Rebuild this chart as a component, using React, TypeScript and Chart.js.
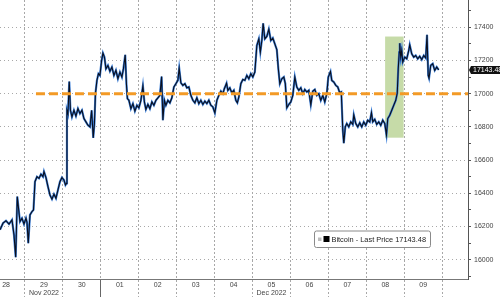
import { useEffect, useRef } from 'react';
import { Chart, registerables } from 'chart.js';

Chart.register(...registerables);

// Hours since 2022-11-28 00:00
const HOURS = [
  8.19, 10.09, 11.98, 13.88, 15.78, 17.04, 18.12, 19.13, 20.02, 20.84,
  22.10, 23.37, 24.63, 25.27, 26.09, 27.16, 28.43, 29.38, 30.32, 31.59,
  32.85, 34.12, 35.38, 36.02, 37.28, 38.55, 39.81, 41.08, 42.34, 43.60,
  44.87, 46.13, 47.40, 48.66, 49.61, 50.24, 50.56, 51.19, 52.02, 52.77,
  53.72, 54.99, 56.25, 57.52, 58.78, 60.05, 61.31, 62.58, 63.84, 65.11,
  66.18, 67.19, 67.95, 68.58, 69.53, 70.48, 71.43, 72.51, 73.33, 74.28,
  75.23, 76.49, 77.76, 79.02, 80.29, 81.55, 82.81, 84.08, 85.34, 86.29,
  87.43, 88.19, 88.82, 89.77, 91.03, 92.30, 93.56, 94.83, 96.09, 97.36,
  98.62, 99.57, 100.52, 101.79, 103.05, 104.32, 105.58, 106.85, 108.11, 109.38,
  110.45, 111.27, 112.22, 113.17, 114.43, 115.70, 116.96, 118.23, 119.49, 120.76,
  121.58, 122.65, 123.92, 125.18, 126.45, 127.71, 128.98, 130.24, 131.51, 132.77,
  134.04, 135.30, 136.57, 137.83, 139.10, 140.36, 141.63, 142.89, 144.16, 145.42,
  146.69, 147.95, 149.22, 150.17, 151.56, 152.38, 153.64, 154.91, 156.17, 157.44,
  158.39, 159.34, 160.60, 161.87, 163.13, 164.40, 165.66, 166.93, 168.19, 169.46,
  170.72, 171.99, 172.94, 173.88, 174.71, 175.78, 177.05, 178.31, 179.58, 180.84,
  182.11, 183.37, 184.32, 185.27, 186.54, 187.80, 188.75, 189.70, 190.96, 192.23,
  193.49, 194.76, 196.02, 197.29, 198.55, 199.82, 201.08, 202.35, 203.61, 204.88,
  206.14, 207.41, 208.67, 209.94, 211.20, 212.47, 213.73, 215.00, 215.94, 217.33,
  218.15, 219.42, 220.68, 221.95, 223.21, 224.16, 225.12, 225.75, 226.69, 227.64,
  228.91, 230.17, 231.44, 232.07, 233.33, 234.60, 235.86, 237.13, 238.39, 239.66,
  240.92, 242.18, 243.26, 244.08, 245.35, 246.61, 247.88, 249.14, 250.41, 251.67,
  252.75, 253.57, 254.83, 256.10, 257.36, 258.63, 259.58, 260.21, 260.84, 261.16,
  261.79, 262.42, 263.05, 264.32, 265.58, 266.85, 267.48, 268.74, 270.01, 271.27,
  272.54, 273.80, 275.07, 276.33, 277.60, 278.42, 279.18, 279.69, 280.76, 282.03,
  283.29, 284.56, 285.82,
];

const PRICES = [
  16180, 16220, 16235, 16215, 16240, 16150, 16015, 16380, 16300, 16230,
  16250, 16215, 16250, 16225, 16100, 16270, 16290, 16300, 16470, 16500,
  16490, 16515, 16500, 16531, 16495, 16440, 16390, 16365, 16395, 16370,
  16420, 16470, 16495, 16480, 16450, 16460, 16900, 16880, 17073, 16900,
  16860, 16900, 16865, 16910, 16880, 16900, 16850, 16830, 16810, 16800,
  16900, 16734, 16820, 17000, 17080, 17120, 17110, 17200, 17244, 17220,
  17150, 17170, 17135, 17160, 17110, 17140, 17090, 17130, 17100, 17150,
  17234, 17060, 16970, 16960, 16910, 16940, 16895, 16930, 16915, 16960,
  17047, 16950, 16905, 16935, 16910, 16950, 16930, 16960, 16975, 16990,
  17103, 16840, 16960, 16930, 16960, 16945, 16975, 17040, 17060, 17080,
  17153, 17065, 17050, 17060, 17035, 17040, 16990, 16960, 16945, 16975,
  16940, 16960, 16935, 16955, 16940, 16960, 16930, 16920, 16884, 16960,
  16990, 17015, 17000, 17030, 17063, 17020, 17035, 17005, 17020, 16960,
  16945, 16980, 17060, 17085, 17080, 17110, 17090, 17120, 17100, 17130,
  17290, 17330, 17250, 17320, 17424, 17330, 17345, 17388, 17320, 17335,
  17300, 17265, 17150, 17060, 17090, 17100, 17060, 16915, 16935, 16950,
  16990, 17100, 17040, 17020, 17035, 17000, 17025, 17010, 17020, 16933,
  17015, 17025, 16990, 17000, 16960, 16990, 16950, 17000, 17100, 17133,
  17080, 17070, 17050, 17040, 17005, 17010, 16780, 16702, 16800, 16820,
  16800, 16830, 16815, 16872, 16820, 16800, 16825, 16800, 16830, 16810,
  16840, 16830, 16885, 16830, 16845, 16815, 16830, 16810, 16840, 16820,
  16752, 16850, 16870, 16900, 16930, 16960, 17003, 17150, 17250, 17304,
  17220, 17260, 17190, 17220, 17210, 17260, 17294, 17240, 17220, 17230,
  17210, 17225, 17205, 17230, 17215, 17354, 17110, 17093, 17170, 17180,
  17140, 17160, 17143.48,
];

const DAY_LABELS = ['28', '29', '30', '01', '02', '03', '04', '05', '06', '07', '08', '09'];
const MONTH_LABELS: Record<string, string> = { '29': 'Nov 2022', '05': 'Dec 2022' };
const MONTH_START_HOUR = 72; // Dec 1 00:00
const X_RANGE = [8.19, 304.35];
const Y_RANGE = [15884, 17564];
const REF_LEVEL = 17000;
const REF_HOURS = [30.95, 304.35];
const HIGHLIGHT_HOURS = [251.9, 263.6];
const HIGHLIGHT_PRICES = [16735, 17344];
const LAST_PRICE = 17143.48;
const SERIES_NAME = 'Bitcoin - Last Price';

const FONT = '"Liberation Sans", Arial, sans-serif';
const GRID = '#a8a8a8';
const CLEAR = 'rgba(0,0,0,0)';

const overlayPlugin = {
  id: 'overlay',
  beforeDatasetsDraw(chart: any) {
    const { ctx, scales } = chart;
    const x = scales.x, y = scales.y;
    const x0 = x.getPixelForValue(HIGHLIGHT_HOURS[0]);
    const x1 = x.getPixelForValue(HIGHLIGHT_HOURS[1]);
    const y0 = y.getPixelForValue(HIGHLIGHT_PRICES[1]);
    const y1 = y.getPixelForValue(HIGHLIGHT_PRICES[0]);
    ctx.save();
    ctx.fillStyle = '#c6dba8';
    ctx.fillRect(x0, y0, x1 - x0, y1 - y0);
    ctx.restore();
  },
  afterDraw(chart: any) {
    const { ctx, chartArea, scales } = chart;
    const y = scales.y;
    // last price callout on the right axis
    const cy = Math.round(y.getPixelForValue(LAST_PRICE));
    ctx.save();
    ctx.fillStyle = '#111';
    ctx.beginPath();
    ctx.moveTo(chartArea.right + 1, cy);
    ctx.lineTo(chartArea.right + 3, cy - 4);
    ctx.lineTo(chart.width, cy - 4);
    ctx.lineTo(chart.width, cy + 4);
    ctx.lineTo(chartArea.right + 3, cy + 4);
    ctx.closePath();
    ctx.fill();
    ctx.fillStyle = '#fff';
    ctx.font = `7px ${FONT}`;
    ctx.textBaseline = 'middle';
    ctx.textAlign = 'left';
    ctx.fillText(LAST_PRICE.toFixed(2), chartArea.right + 5, cy + 0.5);

    // legend box
    const lx = chartArea.right - 153.5;
    const ly = chartArea.bottom - 48;
    const lw = 116, lh = 16.5;
    ctx.beginPath();
    const r = 2;
    ctx.moveTo(lx + r, ly);
    ctx.lineTo(lx + lw - r, ly);
    ctx.quadraticCurveTo(lx + lw, ly, lx + lw, ly + r);
    ctx.lineTo(lx + lw, ly + lh - r);
    ctx.quadraticCurveTo(lx + lw, ly + lh, lx + lw - r, ly + lh);
    ctx.lineTo(lx + r, ly + lh);
    ctx.quadraticCurveTo(lx, ly + lh, lx, ly + lh - r);
    ctx.lineTo(lx, ly + r);
    ctx.quadraticCurveTo(lx, ly, lx + r, ly);
    ctx.closePath();
    ctx.fillStyle = '#fff';
    ctx.fill();
    ctx.strokeStyle = '#8a8a8a';
    ctx.lineWidth = 1;
    ctx.stroke();
    ctx.fillStyle = '#bdbdbd';
    ctx.fillRect(lx + 3.5, ly + 6.5, 3.5, 3.5);
    ctx.fillStyle = '#000';
    ctx.fillRect(lx + 9, ly + 5, 6, 6);
    ctx.fillStyle = '#222';
    ctx.font = `7.4px ${FONT}`;
    ctx.textBaseline = 'middle';
    ctx.fillText(`${SERIES_NAME} ${LAST_PRICE.toFixed(2)}`, lx + 17, ly + lh / 2 + 0.5);
    ctx.restore();
  },
};

export default function App() {
  const canvasRef = useRef<HTMLCanvasElement | null>(null);

  useEffect(() => {
    document.body.style.margin = '0';
    const canvas = canvasRef.current;
    if (!canvas) return;
    const points = HOURS.map((h, i) => ({ x: h, y: PRICES[i] }));
    const refLine = REF_HOURS.map((h) => ({ x: h, y: REF_LEVEL }));

    const chart = new Chart(canvas, {
      type: 'line',
      data: {
        datasets: [
          {
            label: 'ref',
            data: refLine,
            borderColor: '#f39a26',
            borderWidth: 3,
            borderDash: [9, 4],
            pointRadius: 0,
            order: 0,
          },
          {
            label: SERIES_NAME,
            data: points,
            borderColor: '#0a0f1e',
            borderWidth: 1.1,
            pointRadius: 0,
            tension: 0,
            order: 1,
          },
          {
            label: SERIES_NAME + ' (shade)',
            data: points,
            borderColor: '#3d80da',
            borderWidth: 2.2,
            pointRadius: 0,
            tension: 0,
            order: 2,
          },
        ],
      },
      options: {
        animation: false,
        responsive: false,
        maintainAspectRatio: false,
        events: [],
        layout: { padding: 0, autoPadding: false },
        plugins: {
          legend: { display: false },
          tooltip: { enabled: false },
        },
        scales: {
          x: {
            type: 'linear',
            min: X_RANGE[0],
            max: X_RANGE[1],
            afterBuildTicks: (scale: any) => {
              const ticks: { value: number }[] = [];
              for (let i = 0; i < DAY_LABELS.length; i++) {
                ticks.push({ value: 12 + 24 * i });
                ticks.push({ value: 24 + 24 * i });
              }
              scale.ticks = ticks.filter((t) => t.value >= X_RANGE[0] && t.value <= X_RANGE[1]);
            },
            afterFit: (scale: any) => {
              scale.height = 18;
              scale.paddingLeft = 0;
              scale.paddingRight = 0;
            },
            ticks: {
              autoSkip: false,
              maxRotation: 0,
              minRotation: 0,
              padding: -16,
              color: '#444',
              font: { family: FONT, size: 7, lineHeight: 1.15 },
              callback: (value: any) => {
                const v = Number(value);
                if (v % 24 === 12) {
                  const lbl = DAY_LABELS[(v - 12) / 24];
                  const m = MONTH_LABELS[lbl];
                  return m ? [lbl, m] : lbl;
                }
                return '';
              },
            },
            grid: {
              drawOnChartArea: true,
              drawTicks: true,
              tickLength: 18,
              lineWidth: 1,
              color: (ctx: any) => (ctx.tick && ctx.tick.value % 24 === 0 ? GRID : CLEAR),
              tickColor: (ctx: any) => {
                if (!ctx.tick) return CLEAR;
                if (ctx.tick.value === MONTH_START_HOUR) return '#666';
                return ctx.tick.value % 24 === 0 ? GRID : CLEAR;
              },
              tickBorderDash: (ctx: any) =>
                ctx.tick && ctx.tick.value === MONTH_START_HOUR ? [] : [2, 2],
            },
            border: { display: true, color: '#777', width: 1, dash: [2, 2] },
          },
          y: {
            type: 'linear',
            position: 'right',
            min: Y_RANGE[0],
            max: Y_RANGE[1],
            afterFit: (scale: any) => {
              scale.width = 32;
              scale.paddingTop = 0;
              scale.paddingBottom = 0;
            },
            ticks: {
              stepSize: 100,
              includeBounds: false,
              padding: 3,
              color: '#444',
              font: { family: FONT, size: 7 },
              callback: (value: any) => (Number(value) % 200 === 0 ? String(value) : ''),
            },
            grid: {
              drawTicks: true,
              tickLength: 3,
              lineWidth: 1,
              color: (ctx: any) => (ctx.tick && ctx.tick.value % 200 === 0 ? GRID : CLEAR),
              tickColor: '#555',
              tickBorderDash: [],
            },
            border: { display: true, color: '#555', width: 1, dash: [1, 3] },
          },
        },
      },
      plugins: [overlayPlugin],
    } as any);

    return () => chart.destroy();
  }, []);

  return (
    <div style={{ width: 500, height: 297, position: 'relative' }}>
      <canvas ref={canvasRef} width={500} height={297} style={{ display: 'block' }} />
    </div>
  );
}
